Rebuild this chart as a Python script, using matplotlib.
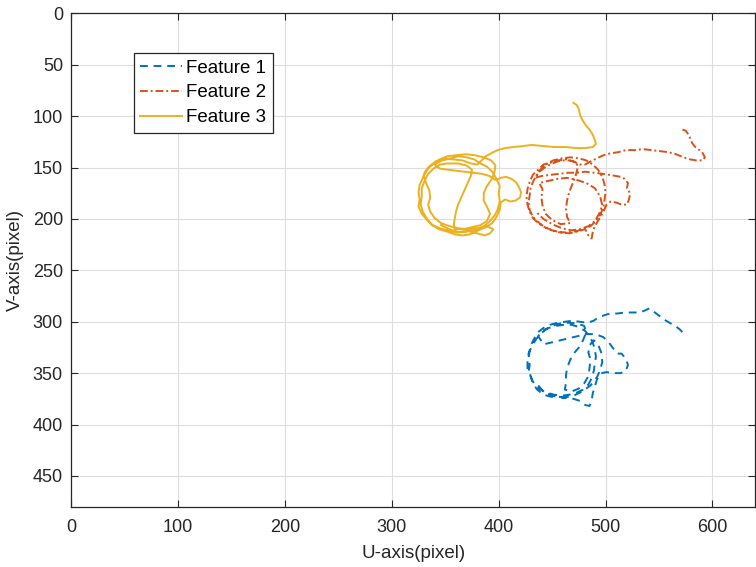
import matplotlib
matplotlib.use("Agg")
import matplotlib.pyplot as plt

# feature tracks in image coordinates (u, v)
f1_u = [572, 569, 565, 560, 555, 550, 545, 541, 537, 532, 525, 518, 511, 504, 498, 493, 489,
        483, 476, 469, 462, 455, 448, 442, 437, 434, 431, 429, 428, 429, 428, 431, 434, 439, 445, 452, 459,
        466, 473, 479, 484, 487, 489, 490, 491, 490, 488, 485, 481, 475, 468, 461, 454, 447, 441, 437,
        442, 450, 458, 466, 474, 481, 487, 493, 498,
        503, 508, 511, 515, 519, 521, 519, 514, 507, 501, 496,
        492, 490, 488, 487, 485, 481,
        476, 470, 463, 456, 449, 442, 436, 432, 430, 427, 427, 428, 431, 435, 440, 446, 453, 460, 467,
        474, 480,
        482, 479, 476, 471, 467, 464, 463, 463, 462,
        468, 475, 480, 484, 485, 486, 484, 485, 489, 493, 496, 497, 495, 492, 486, 478, 470, 460, 450,
        442, 437]
f1_v = [310, 307, 304, 301, 298, 294, 290, 287, 289, 291, 291, 291, 292, 292, 294, 296, 299,
        301, 300, 299, 300, 301, 303, 306, 310, 315, 321, 328, 335, 342, 349, 356, 362, 366, 369, 371, 372,
        371, 369, 366, 361, 355, 348, 341, 334, 327, 320, 314, 309, 305, 303, 303, 304, 306, 309, 314,
        322, 320, 318, 316, 314, 312, 312, 313, 315,
        320, 327, 331, 331, 336, 342, 348, 350, 350, 349, 350,
        356, 363, 370, 377, 382, 381,
        377, 375, 374, 373, 373, 371, 366, 360, 353, 346, 339, 331, 324, 317, 311, 306, 303, 301, 301,
        302, 304,
        310, 318, 324, 330, 337, 345, 352, 359, 366,
        368, 365, 360, 353, 345, 337, 330, 323, 318, 322, 330, 339, 347, 354, 362, 368, 372, 374, 372,
        368, 362]

f2_u = [572, 575, 577, 579, 581, 584, 588, 591, 593, 591, 585, 579, 573, 566, 559, 551, 543, 535, 527,
        519, 512, 505, 498, 492, 486, 481,
        476, 470, 463, 456, 449, 442, 437, 432, 429, 427, 426, 427, 429, 432, 437, 443, 450, 457, 465,
        472, 479, 486, 491, 495, 498, 499, 500, 499, 497, 493, 488, 482, 475, 467, 459, 451, 444, 439,
        434, 441, 449, 457, 465, 473, 481, 489, 497,
        503, 509, 514, 518, 521, 520, 523, 522, 520, 515, 510, 505, 501,
        498, 494, 490, 488, 487, 484,
        481, 474, 466, 458, 450, 443, 437, 432, 429, 428, 429, 430, 433, 437, 443, 450, 458, 466, 473,
        474, 472, 469, 466, 464, 463, 464, 467,
        458, 450, 444, 441, 440, 441, 438,
        446, 455, 464, 473, 482, 490, 495, 497, 494, 490, 484, 476, 468, 459, 450, 442, 436]
f2_v = [113, 114, 117, 121, 126, 130, 133, 136, 140, 143, 143, 142, 140, 137, 135, 134, 133, 132, 133,
        133, 135, 136, 138, 141, 144, 147,
        147, 144, 142, 143, 145, 147, 152, 157, 164, 171, 178, 186, 193, 199, 204, 208, 211, 213, 213,
        212, 210, 207, 202, 196, 189, 182, 174, 166, 159, 152, 147, 143, 141, 140, 141, 143, 147, 152,
        160, 158, 157, 156, 155, 155, 154, 155, 156,
        157, 158, 159, 161, 165, 170, 175, 181, 186, 186, 184, 183, 186,
        193, 200, 207, 213, 219, 216,
        210, 212, 214, 213, 211, 208, 203, 198, 191, 184, 177, 169, 162, 155, 150, 146, 143, 143, 145,
        150, 158, 166, 174, 182, 190, 198, 204,
        205, 201, 195, 187, 179, 171, 165,
        163, 161, 160, 162, 165, 170, 178, 187, 195, 202, 207, 210, 211, 209, 205, 200, 194]

f3_u = [470, 473, 475, 476, 478, 481, 485, 488, 490, 491, 488, 481, 472, 463, 452, 441, 431, 423, 414,
        406, 399, 393, 388, 384, 380,
        374, 366, 357, 349, 341, 335, 331, 329, 326, 325, 326, 325, 328, 333, 338, 345, 352, 360, 369,
        377, 385, 391, 396, 399, 401, 400, 401, 398, 394, 389, 383, 377, 370, 362, 355, 347, 340,
        345, 352, 360, 368, 376, 384, 391, 397,
        402, 407, 412, 416, 419, 421, 420, 416, 411, 406, 402,
        401, 398, 394, 388, 381, 373, 366, 359, 351, 344, 338, 333, 329, 327, 328, 328, 331, 334, 339,
        345, 352,
        362, 370, 375, 374, 371, 368, 365, 362, 360, 359, 358, 359,
        367, 375, 383, 389, 392, 389, 386, 386, 389, 393, 396, 397, 393, 386, 378, 369, 360, 352, 345,
        339, 334, 330, 332, 335, 336, 334, 336, 340, 346, 354, 362, 371, 380, 389, 395, 392, 387, 380,
        372, 363, 354, 346]
f3_v = [87, 89, 93, 98, 103, 108, 113, 118, 123, 127, 130, 131, 131, 130, 130, 129, 128, 129, 130,
        131, 133, 136, 139, 143, 147,
        146, 143, 142, 141, 144, 149, 154, 160, 167, 174, 181, 188, 195, 201, 206, 209, 211, 213, 212,
        211, 208, 203, 197, 191, 183, 175, 168, 161, 154, 149, 146, 142, 140, 139, 141, 143, 147,
        151, 152, 153, 154, 155, 156, 158, 162,
        160, 159, 161, 164, 169, 174, 179, 182, 183, 181, 184,
        191, 198, 204, 208, 211, 215, 216, 215, 212, 210, 206, 200, 193, 186, 178, 170, 162, 156, 151,
        147, 146,
        146, 148, 152, 158, 165, 172, 179, 186, 193, 199, 205, 210,
        210, 208, 206, 202, 195, 188, 182, 175, 168, 162, 155, 148, 143, 140, 138, 137, 138, 139, 142,
        146, 151, 158, 165, 172, 179, 186, 193, 199, 204, 207, 209, 210, 209, 207, 210, 214, 216, 214,
        212, 213, 210, 206]

xticks = [0, 100, 200, 300, 400, 500, 600]
yticks = [0, 50, 100, 150, 200, 250, 300, 350, 400, 450]

plt.rcParams['font.family'] = ['Liberation Sans', 'DejaVu Sans']

fig = plt.figure(figsize=(7.56, 5.67), dpi=100)
ax = fig.add_axes([0.0943, 0.1063, 0.9045, 0.870])

ax.plot(f1_u, f1_v, color='#0072BD', linestyle=(0, (4, 3)), linewidth=1.4, label='Feature 1')
ax.plot(f2_u, f2_v, color='#D95319', linestyle=(0, (4, 1.5, 1, 1.5)), linewidth=1.4, label='Feature 2')
ax.plot(f3_u, f3_v, color='#EDB120', linestyle='-', linewidth=1.4, label='Feature 3')

ax.set_xlim(0, 640)
ax.set_ylim(480, 0)
ax.set_xticks(xticks)
ax.set_yticks(yticks)
ax.grid(True, color='#dedede', linewidth=0.8)
ax.set_axisbelow(True)
ax.tick_params(direction='in', length=5, top=True, right=True, labelsize=13,
               colors='#262626', width=0.8)
ax.tick_params(axis='x', pad=9)
ax.tick_params(axis='y', pad=6)
for s in ax.spines.values():
    s.set_color('#262626')
    s.set_linewidth(0.9)

ax.set_xlabel('U-axis(pixel)', fontsize=13.5, color='#262626', labelpad=6)
ax.set_ylabel('V-axis(pixel)', fontsize=13.5, color='#262626', labelpad=6)

leg = ax.legend(loc='upper left', bbox_to_anchor=(0.0916, 0.9195), fontsize=13.5,
                frameon=True, fancybox=False, framealpha=1, edgecolor='#262626',
                handlelength=2.2, handletextpad=0.25, borderpad=0.35, labelspacing=0.4,
                borderaxespad=0)
leg.get_frame().set_linewidth(0.9)

fig.savefig('out.png', dpi=100)
